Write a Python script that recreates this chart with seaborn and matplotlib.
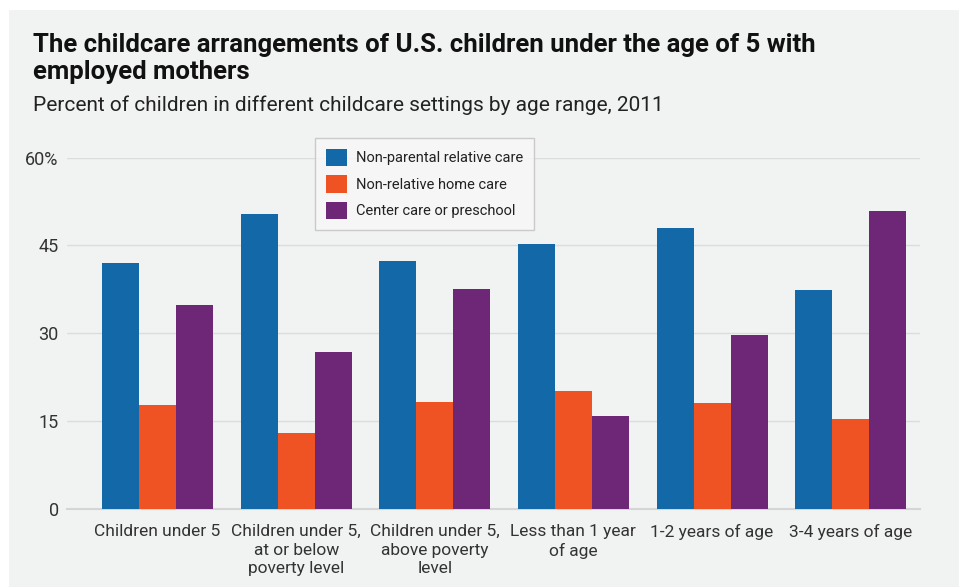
import matplotlib
matplotlib.use("Agg")
import matplotlib.pyplot as plt
import seaborn as sns
import pandas as pd
from matplotlib.patches import Rectangle

categories = [
    "Children under 5",
    "Children under 5,\nat or below\npoverty level",
    "Children under 5,\nabove poverty\nlevel",
    "Less than 1 year\nof age",
    "1-2 years of age",
    "3-4 years of age",
]
series_names = ["Non-parental relative care", "Non-relative home care", "Center care or preschool"]
relative_care = [42.0, 50.3, 42.3, 45.3, 48.0, 37.4]
nonrelative_home = [17.7, 12.9, 18.3, 20.2, 18.1, 15.3]
center_care = [34.9, 26.8, 37.5, 15.8, 29.7, 50.9]
yticks = [0, 15, 30, 45, 60]
ytick_labels = ["0", "15", "30", "45", "60%"]
colors = ["#1369a8", "#f05323", "#6e2777"]

rows = []
for name, vals in zip(series_names, [relative_care, nonrelative_home, center_care]):
    for c, v in zip(categories, vals):
        rows.append({"category": c, "series": name, "value": v})
df = pd.DataFrame(rows)

sns.set_theme(style="white")
FONT = ["Roboto", "DejaVu Sans"]
plt.rcParams["font.family"] = FONT

BG = "#f1f2f2"
fig = plt.figure(figsize=(9.59, 5.87), dpi=100, facecolor="white")
fig.patches.append(Rectangle((9 / 959, 0), 1 - 9 / 959, 1 - 10 / 587,
                             transform=fig.transFigure, facecolor=BG, edgecolor="none", zorder=-10))

ax = fig.add_axes([67 / 959, 1 - 508.7 / 587, (920 - 67) / 959, (508.7 - 157.7) / 587])
ax.set_facecolor(BG)

sns.barplot(data=df, x="category", y="value", hue="series", palette=colors,
            saturation=1, width=0.8, gap=0, ax=ax, errorbar=None,
            edgecolor="none", linewidth=0, zorder=3)

ax.set_ylim(0, 60)
ax.set_xlim(-0.653, 5.5)
ax.set_yticks(yticks)
ax.set_yticklabels(ytick_labels, fontsize=13, color="#333333")
ax.tick_params(axis="y", length=0, pad=6)
ax.tick_params(axis="x", length=4, color="#d5d5d5", pad=7, labelsize=12.5, labelcolor="#333333")
for lbl in ax.get_xticklabels():
    lbl.set_linespacing(1.3)
    lbl.set_verticalalignment("top")
ax.set_xlabel("")
ax.set_ylabel("")
ax.grid(axis="y", color="#dcdcdc", linewidth=1, zorder=0)
for s in ["top", "right", "left"]:
    ax.spines[s].set_visible(False)
ax.spines["bottom"].set_color("#d5d5d5")
ax.spines["bottom"].set_linewidth(1.5)

leg = ax.legend(loc="upper left", bbox_to_anchor=((315 - 67) / 853, 1 + (157.7 - 138) / 351),
                borderaxespad=0, frameon=True, fontsize=10.5, handlelength=1.45, handleheight=1.45,
                handletextpad=0.6, borderpad=0.75, labelspacing=0.62, fancybox=False)
leg.get_frame().set_facecolor("#f8f8f8")
leg.get_frame().set_edgecolor("#c0c0c0")
leg.get_frame().set_linewidth(1)
for t in leg.get_texts():
    t.set_color("#222222")

fig.text(33 / 959, 1 - 33 / 587, "The childcare arrangements of U.S. children under the age of 5 with\nemployed mothers",
         fontsize=18.5, fontweight="bold", color="#111111", va="top", ha="left", linespacing=1.15)
fig.text(33 / 959, 1 - 95 / 587, "Percent of children in different childcare settings by age range, 2011",
         fontsize=15, color="#222222", va="top", ha="left")

fig.savefig("out.png", dpi=100, facecolor="white")
